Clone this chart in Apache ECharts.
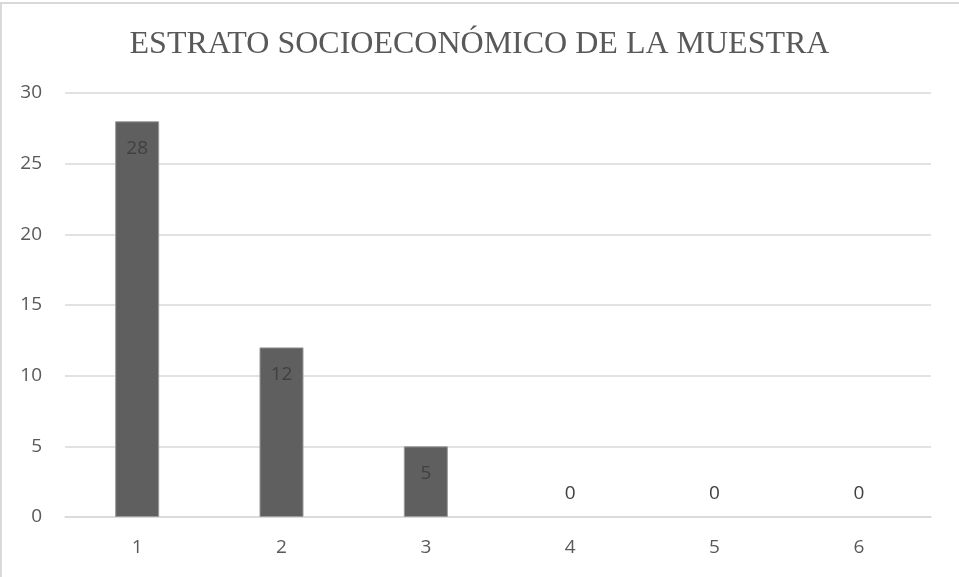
<!DOCTYPE html>
<html>
<head>
<meta charset="utf-8">
<script src="https://cdn.jsdelivr.net/npm/echarts@6/dist/echarts.min.js"></script>
<style>
html,body{margin:0;padding:0;background:#fff;}
#c{position:absolute;left:0;top:0;width:959px;height:577px;}
#b{position:absolute;left:0;top:2px;width:957px;height:575px;border-left:2px solid #d9d9d9;border-top:2px solid #d9d9d9;pointer-events:none;}
</style>
</head>
<body>
<div id="c"></div>
<div id="b"></div>
<script>
const titleText = 'ESTRATO SOCIOECONÓMICO DE LA MUESTRA';
const categories = ['1','2','3','4','5','6'];
const values = [28, 12, 5, 0, 0, 0];
const yTicks = {min:0, max:30, interval:5};

const chart = echarts.init(document.getElementById('c'));
const data = values.map(v => ({
  value: v,
  itemStyle: v === 0 ? {borderWidth:0, color:'rgba(0,0,0,0)'} : undefined,
  label: v === 0 ? {position:'top', distance:14} : {position:'insideTop', distance:18}
}));
const font = '"Open Sans", sans-serif';
chart.setOption({
  animation:false,
  title:{text:titleText, left:'center', top:24,
    textStyle:{fontFamily:'"Liberation Serif", serif', fontSize:32, fontWeight:'normal', color:'#595959'}},
  grid:{left:65, right:28, top:93, bottom:60, containLabel:false},
  xAxis:{type:'category', data:categories,
    axisLine:{show:true, lineStyle:{color:'#d9d9d9', width:1.5}},
    axisTick:{show:false},
    axisLabel:{color:'#595959', fontSize:19, fontFamily:font, margin:21}},
  yAxis:{type:'value', min:yTicks.min, max:yTicks.max, interval:yTicks.interval,
    axisLine:{show:false}, axisTick:{show:false},
    splitLine:{lineStyle:{color:'#d9d9d9', width:1.5}},
    axisLabel:{color:'#595959', fontSize:19, fontFamily:font, margin:23}},
  series:[{type:'bar', data:data, barWidth:'30.5%',
    itemStyle:{color:'#5f5f5f', borderColor:'#9a9a9a', borderWidth:1},
    label:{show:true, color:'#404040', fontSize:19, fontFamily:font}}]
});
</script>
</body>
</html>
